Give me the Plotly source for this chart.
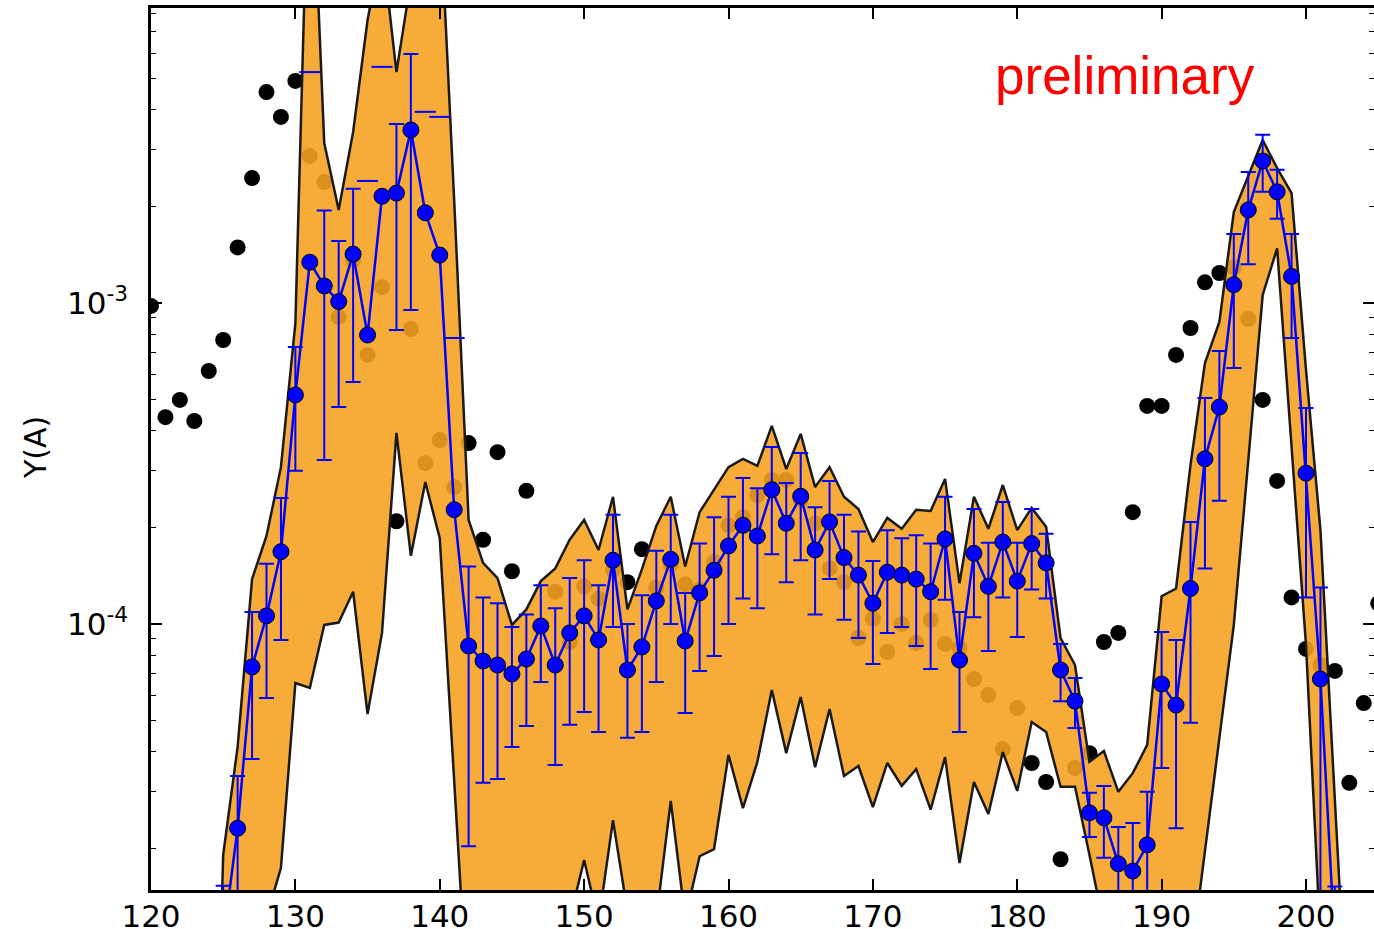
import plotly.graph_objects as go

# ---- black reference points (x = 120..205) ----
ref_x = list(range(120, 206))
ref_y = [9.79e-4, 4.41e-4, 4.99e-4, 4.29e-4, 6.14e-4, 7.67e-4, 1.49e-3, 2.45e-3, 4.54e-3, 3.80e-3,
         4.92e-3, 2.87e-3, 2.38e-3, 9.05e-4, 1.36e-3, 6.89e-4, 1.12e-3, 2.09e-4, 8.30e-4, 3.17e-4,
         3.74e-4, 2.67e-4, 3.66e-4, 1.83e-4, 3.43e-4, 1.46e-4, 2.60e-4, 9.79e-5, 1.26e-4, 8.79e-5,
         1.31e-4, 1.20e-4, 1.47e-4, 1.35e-4, 1.71e-4, 1.30e-4, 1.53e-4, 1.33e-4, 1.28e-4, 1.56e-4,
         2.03e-4, 2.15e-4, 2.52e-4, 2.81e-4, 2.81e-4, 2.43e-4, 2.06e-4, 1.49e-4, 1.35e-4, 9.04e-5,
         1.04e-4, 8.18e-5, 1.00e-4, 8.73e-5, 1.03e-4, 8.67e-5, 8.42e-5, 6.74e-5, 6.01e-5, 4.08e-5,
         5.47e-5, 3.69e-5, 3.22e-5, 1.85e-5, 3.56e-5, 3.96e-5, 8.79e-5, 9.38e-5, 2.23e-4, 4.78e-4,
         4.78e-4, 6.89e-4, 8.36e-4, 1.16e-3, 1.24e-3, 1.29e-3, 8.92e-4, 4.99e-4, 2.79e-4, 1.21e-4,
         8.36e-5, 7.45e-5, 7.14e-5, 3.20e-5, 5.67e-5, 1.16e-4]

# ---- orange band (x = 124..203) ----
band_x = list(range(124, 204))
band_hi = [5.0e-7, 1.91e-5, 4.14e-5, 1.38e-4, 1.88e-4, 3.08e-4, 8.66e-4, 3.69e-2, 3.15e-3, 1.95e-3,
           3.41e-3, 7.61e-3, 1.31e-2, 5.24e-3, 1.01e-2, 1.56e-2, 1.80e-2, 2.09e-3, 2.11e-4, 1.55e-4,
           1.39e-4, 9.93e-5, 1.11e-4, 1.36e-4, 1.49e-4, 1.83e-4, 2.11e-4, 1.70e-4, 2.49e-4, 1.11e-4,
           1.48e-4, 2.02e-4, 2.49e-4, 1.51e-4, 2.23e-4, 2.62e-4, 3.08e-4, 3.27e-4, 3.11e-4, 4.14e-4,
           3.04e-4, 3.91e-4, 2.67e-4, 3.08e-4, 2.49e-4, 2.28e-4, 1.80e-4, 2.14e-4, 1.98e-4, 2.27e-4,
           2.25e-4, 2.83e-4, 1.34e-4, 2.49e-4, 1.98e-4, 2.71e-4, 1.96e-4, 2.30e-4, 2.01e-4, 9.04e-5,
           7.45e-5, 3.72e-5, 4.02e-5, 3.00e-5, 3.43e-5, 4.20e-5, 1.22e-4, 1.29e-4, 3.13e-4, 6.50e-4,
           8.73e-4, 1.92e-3, 2.47e-3, 3.22e-3, 2.63e-3, 2.20e-3, 6.19e-4, 1.96e-4, 2.83e-5, 4.14e-6]
band_lo = [4.0e-7, 1.0e-6, 1.0e-6, 1.0e-6, 1.22e-5, 1.74e-5, 6.55e-5, 6.32e-5, 9.93e-5, 1.01e-4,
           1.26e-4, 5.24e-5, 9.38e-5, 3.94e-4, 1.63e-4, 2.77e-4, 1.85e-4, 2.83e-5, 4.38e-6, 1.0e-6,
           1.0e-6, 1.0e-6, 1.0e-6, 1.0e-6, 1.0e-6, 1.20e-5, 1.84e-5, 1.18e-5, 2.45e-5, 1.27e-5,
           6.7e-6, 1.21e-5, 2.81e-5, 1.21e-5, 1.89e-5, 1.99e-5, 3.91e-5, 2.67e-5, 3.72e-5, 6.23e-5,
           3.96e-5, 5.92e-5, 3.58e-5, 5.43e-5, 3.36e-5, 3.61e-5, 2.69e-5, 3.69e-5, 3.13e-5, 3.53e-5,
           2.64e-5, 3.85e-5, 1.80e-5, 3.22e-5, 2.56e-5, 3.99e-5, 3.02e-5, 4.95e-5, 4.61e-5, 3.11e-5,
           3.11e-5, 1.91e-5, 1.15e-5, 1.0e-6, 1.0e-6, 1.0e-6, 1.0e-6, 1.0e-6, 8.7e-6, 1.98e-5,
           4.51e-5, 9.93e-5, 3.22e-4, 1.06e-3, 1.48e-3, 3.48e-4, 8.60e-5, 1.04e-5, 1.0e-6, 1.0e-6]

# ---- blue measurement (x = 125..202): value, upper bound, lower bound ----
meas_x = list(range(125, 203))
meas_y = [1.04e-5, 2.31e-5, 7.35e-5, 1.06e-4, 1.68e-4, 5.17e-4, 1.34e-3, 1.13e-3, 1.01e-3, 1.42e-3,
          7.95e-4, 2.15e-3, 2.20e-3, 3.46e-3, 1.91e-3, 1.41e-3, 2.27e-4, 8.54e-5, 7.67e-5, 7.45e-5,
          6.99e-5, 7.78e-5, 9.86e-5, 7.45e-5, 9.38e-5, 1.06e-4, 8.92e-5, 1.58e-4, 7.19e-5, 8.48e-5,
          1.18e-4, 1.59e-4, 8.85e-5, 1.25e-4, 1.47e-4, 1.75e-4, 2.03e-4, 1.88e-4, 2.62e-4, 2.06e-4,
          2.50e-4, 1.70e-4, 2.08e-4, 1.61e-4, 1.42e-4, 1.16e-4, 1.45e-4, 1.42e-4, 1.38e-4, 1.26e-4,
          1.84e-4, 7.72e-5, 1.66e-4, 1.31e-4, 1.80e-4, 1.36e-4, 1.78e-4, 1.55e-4, 7.19e-5, 5.75e-5,
          2.58e-5, 2.49e-5, 1.79e-5, 1.70e-5, 2.05e-5, 6.50e-5, 5.59e-5, 1.29e-4, 3.27e-4, 4.74e-4,
          1.14e-3, 1.95e-3, 2.77e-3, 2.22e-3, 1.21e-3, 2.95e-4, 6.74e-5, 1.0e-5]
# None = no visible error bar (only the upper cap is drawn, see cap_x / cap_y)
meas_hi = [1.53e-5, 3.36e-5, 1.09e-4, 1.54e-4, 2.47e-4, 7.29e-4, None, 1.94e-3, 1.56e-3, 2.27e-3,
           None, None, 3.61e-3, 5.97e-3, None, None, None, 1.51e-4, 1.21e-4, 1.16e-4,
           9.79e-5, 1.07e-4, 1.32e-4, 1.12e-4, 1.39e-4, 1.58e-4, 1.32e-4, 2.19e-4, 1.00e-4, 1.23e-4,
           1.69e-4, 2.19e-4, 1.25e-4, 1.78e-4, 2.15e-4, 2.49e-4, 2.85e-4, 2.65e-4, 3.56e-4, 2.75e-4,
           3.41e-4, 2.31e-4, 2.79e-4, 2.19e-4, 1.94e-4, 1.57e-4, 1.96e-4, 1.85e-4, 1.89e-4, 1.78e-4,
           2.49e-4, 1.09e-4, 2.28e-4, 1.79e-4, 2.40e-4, 1.79e-4, 2.28e-4, 1.91e-4, 8.67e-5, 6.79e-5,
           2.98e-5, 3.13e-5, 2.33e-5, 2.40e-5, 3.00e-5, 9.44e-5, 8.92e-5, 2.08e-4, 5.06e-4, 7.09e-4,
           1.64e-3, 2.56e-3, 3.34e-3, 2.60e-3, 1.64e-3, 4.71e-4, 1.30e-4, 1.52e-5]
meas_lo = [3.3e-6, 6.7e-6, 3.80e-5, 5.88e-5, 8.92e-5, 3.00e-4, None, 3.24e-4, 4.74e-4, 5.67e-4,
           None, None, 8.24e-4, 9.51e-4, None, None, None, 2.03e-5, 3.20e-5, 3.29e-5,
           4.14e-5, 4.81e-5, 6.60e-5, 3.64e-5, 4.85e-5, 5.32e-5, 4.61e-5, 9.79e-5, 4.42e-5, 4.61e-5,
           6.60e-5, 1.00e-4, 5.28e-5, 7.14e-5, 7.95e-5, 1.00e-4, 1.20e-4, 1.12e-4, 1.65e-4, 1.35e-4,
           1.58e-4, 1.07e-4, 1.38e-4, 1.03e-4, 9.04e-5, 7.51e-5, 9.38e-5, 9.79e-5, 8.54e-5, 7.24e-5,
           1.19e-4, 4.61e-5, 1.05e-4, 8.24e-5, 1.21e-4, 9.11e-5, 1.28e-4, 1.20e-4, 5.75e-5, 4.74e-5,
           2.17e-5, 1.87e-5, 8.0e-6, 8.0e-6, 8.0e-6, 3.56e-5, 2.31e-5, 4.92e-5, 1.49e-4, 2.42e-4,
           6.27e-4, 1.32e-3, 2.22e-3, 1.83e-3, 7.78e-4, 1.21e-4, 8.0e-6, 3.0e-6]
cap_x = [131, 135, 136, 139, 140, 141]
cap_y = [5.24e-3, 2.40e-3, 5.44e-3, 3.94e-3, 3.80e-3, 7.78e-4]

x_ticks = [120, 130, 140, 150, 160, 170, 180, 190, 200]
y_ticks = [1e-4, 1e-3]
y_ticktext = ["10<sup>-4</sup>", "10<sup>-3</sup>"]
y_minor = [m * 10.0 ** k for k in (-5, -4, -3) for m in range(2, 10)]

err_plus = [(h - v) if h is not None else 0 for v, h in zip(meas_y, meas_hi)]
err_minus = [(v - l) if l is not None else 0 for v, l in zip(meas_y, meas_lo)]

BLUE = "#0000ff"
EDGE = "#1a1a1a"

fig = go.Figure()
fig.add_trace(go.Scatter(x=ref_x, y=ref_y, mode="markers",
                         marker=dict(color="black", size=16, line=dict(width=0))))
fig.add_trace(go.Scatter(x=band_x, y=band_lo, mode="lines",
                         line=dict(color=EDGE, width=2.5)))
fig.add_trace(go.Scatter(x=band_x, y=band_hi, mode="lines", fill="tonexty",
                         fillcolor="rgba(246,162,34,0.89)",
                         line=dict(color=EDGE, width=2.5)))
fig.add_trace(go.Scatter(x=meas_x, y=meas_y, mode="lines+markers",
                         line=dict(color=BLUE, width=2.5),
                         marker=dict(color=BLUE, size=16, line=dict(color="black", width=1)),
                         error_y=dict(type="data", symmetric=False, array=err_plus,
                                      arrayminus=err_minus, color=BLUE, thickness=2, width=7.5)))
fig.add_trace(go.Scatter(x=cap_x, y=cap_y, mode="markers",
                         marker=dict(symbol="line-ew", size=15, color=BLUE,
                                     line=dict(color=BLUE, width=2))))

fig.add_annotation(text="preliminary", xref="paper", yref="paper", x=0.796, y=0.923,
                   xanchor="center", yanchor="middle", showarrow=False,
                   font=dict(family="Liberation Sans, Arial", size=53, color="red"))
fig.add_annotation(text="Y(A)", xref="paper", yref="paper", x=(35 - 151) / 1223, y=0.501,
                   xanchor="center", yanchor="middle", showarrow=False, textangle=-90,
                   font=dict(family="DejaVu Sans", size=30, color="black"))

axis_common = dict(showline=True, linecolor="black", linewidth=2.5, mirror="allticks",
                   ticks="inside", tickcolor="black", tickwidth=1.5, ticklen=11,
                   showgrid=False, zeroline=False, automargin=False,
                   tickfont=dict(family="DejaVu Sans", size=31, color="black"))
fig.update_xaxes(range=[120, 204.71], tickmode="array", tickvals=x_ticks,
                 ticklabelstandoff=-3, **axis_common)
fig.update_yaxes(type="log", range=[-4.8287, -2.081], tickmode="array", tickvals=y_ticks,
                 ticktext=y_ticktext, ticklabelstandoff=14,
                 minor=dict(tickmode="array", tickvals=y_minor, ticks="inside", ticklen=5,
                            tickwidth=1.2, tickcolor="black", showgrid=False),
                 **axis_common)
fig.update_layout(width=1374, height=929, showlegend=False,
                  margin=dict(l=151, r=0, t=8, b=39),
                  plot_bgcolor="white", paper_bgcolor="white")

fig.write_html("out.html")
